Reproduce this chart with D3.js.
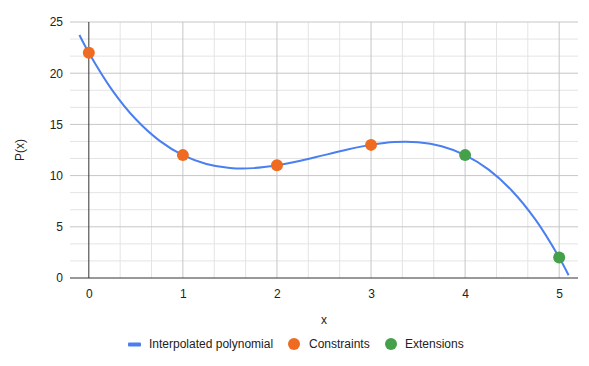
<!DOCTYPE html>
<html>
<head>
<meta charset="utf-8">
<script src="https://cdn.jsdelivr.net/npm/d3@7"></script>
<style>
  body { margin: 0; background: #fff; }
  text { font-family: "Liberation Sans", Arial, sans-serif; fill: #222; }
</style>
</head>
<body>
<svg width="589" height="366"></svg>
<script>
// data
const curveX = [-0.1, 0, 0.25, 0.5, 0.75, 1, 1.25, 1.5, 1.75, 2, 2.25, 2.5, 2.75, 3, 3.25, 3.5, 3.75, 4, 4.25, 4.5, 4.75, 5, 5.1];
const curveY = [23.73, 22, 18.33, 15.5, 13.42, 12, 11.14, 10.75, 10.73, 11, 11.45, 12, 12.55, 13, 13.27, 13.25, 12.86, 12, 10.58, 8.5, 5.67, 2, 0.27];
const constraintX = [0, 1, 2, 3];
const constraintY = [22, 12, 11, 13];
const extensionX = [4, 5];
const extensionY = [12, 2];
const xTicks = [0, 1, 2, 3, 4, 5];
const yTicks = [0, 5, 10, 15, 20, 25];

const svg = d3.select('svg');

const margin = { left: 70, right: 11, top: 22, bottom: 88 };
const width = +svg.attr('width');
const height = +svg.attr('height');

const xScale = d3.scaleLinear().domain([-0.2, 5.2]).range([margin.left, width - margin.right]);
const yScale = d3.scaleLinear().domain([0, 25]).range([height - margin.bottom, margin.top]);

const g = svg.append('g');

// minor grid (thirds of each major step)
const xMinor = d3.range(0, 5.2, 1 / 3).filter(v => Math.abs(v - Math.round(v)) > 0.01);
const yMinor = d3.range(0, 25.001, 5 / 3).filter(v => Math.abs(v / 5 - Math.round(v / 5)) > 0.01);

g.selectAll('.vminor').data(xMinor).enter().append('line')
  .attr('x1', d => xScale(d)).attr('x2', d => xScale(d))
  .attr('y1', yScale(0)).attr('y2', yScale(25))
  .attr('stroke', '#e4e4e4').attr('stroke-width', 1);
g.selectAll('.hminor').data(yMinor).enter().append('line')
  .attr('y1', d => yScale(d)).attr('y2', d => yScale(d))
  .attr('x1', xScale.range()[0]).attr('x2', xScale.range()[1])
  .attr('stroke', '#e4e4e4').attr('stroke-width', 1);

// major grid
g.selectAll('.vmajor').data(xTicks.filter(d => d !== 0)).enter().append('line')
  .attr('x1', d => xScale(d)).attr('x2', d => xScale(d))
  .attr('y1', yScale(0)).attr('y2', yScale(25))
  .attr('stroke', '#c6c6c6').attr('stroke-width', 1);
g.selectAll('.hmajor').data(yTicks.filter(d => d !== 0)).enter().append('line')
  .attr('y1', d => yScale(d)).attr('y2', d => yScale(d))
  .attr('x1', xScale.range()[0]).attr('x2', xScale.range()[1])
  .attr('stroke', '#c6c6c6').attr('stroke-width', 1);

// zero lines
g.append('line')
  .attr('x1', xScale(0)).attr('x2', xScale(0))
  .attr('y1', yScale(0)).attr('y2', yScale(25))
  .attr('stroke', '#333').attr('stroke-width', 1);
g.append('line')
  .attr('y1', yScale(0)).attr('y2', yScale(0))
  .attr('x1', xScale.range()[0]).attr('x2', xScale.range()[1])
  .attr('stroke', '#333').attr('stroke-width', 1);

// tick labels
const xAxisG = svg.append('g')
  .attr('transform', `translate(0, ${yScale(0)})`)
  .call(d3.axisBottom(xScale).tickValues(xTicks).tickFormat(d3.format('d')).tickSize(0).tickPadding(11));
xAxisG.select('.domain').remove();
xAxisG.selectAll('text').attr('font-size', 12).attr('fill', '#222')
  .style('font-family', '"Liberation Sans", Arial, sans-serif');

const yAxisG = svg.append('g')
  .attr('transform', `translate(${margin.left - 2}, 0)`)
  .call(d3.axisLeft(yScale).tickValues(yTicks).tickFormat(d3.format('d')).tickSize(0).tickPadding(5));
yAxisG.select('.domain').remove();
yAxisG.selectAll('text').attr('font-size', 12).attr('fill', '#222')
  .style('font-family', '"Liberation Sans", Arial, sans-serif');

// axis titles
svg.append('text')
  .attr('x', (xScale.range()[0] + xScale.range()[1]) / 2)
  .attr('y', 324)
  .attr('text-anchor', 'middle')
  .attr('font-size', 12)
  .text('x');

svg.append('text')
  .attr('transform', `translate(24, ${(yScale(0) + yScale(25)) / 2}) rotate(-90)`)
  .attr('text-anchor', 'middle')
  .attr('font-size', 12)
  .text('P(x)');

// curve
const curveData = curveX.map((x, i) => ({ x, y: curveY[i] }));
const line = d3.line()
  .x(d => xScale(d.x))
  .y(d => yScale(d.y))
  .curve(d3.curveCatmullRom);

g.append('path')
  .datum(curveData)
  .attr('d', line)
  .attr('fill', 'none')
  .attr('stroke', '#4a7ff0')
  .attr('stroke-width', 2);

// points
const constraints = constraintX.map((x, i) => ({ x, y: constraintY[i] }));
const extensions = extensionX.map((x, i) => ({ x, y: extensionY[i] }));

g.selectAll('.c').data(constraints).enter().append('circle')
  .attr('cx', d => xScale(d.x)).attr('cy', d => yScale(d.y))
  .attr('r', 6).attr('fill', '#ef6b22');
g.selectAll('.e').data(extensions).enter().append('circle')
  .attr('cx', d => xScale(d.x)).attr('cy', d => yScale(d.y))
  .attr('r', 6).attr('fill', '#45a04a');

// legend
const legend = svg.append('g').attr('transform', 'translate(0, 344)');
legend.append('rect')
  .attr('x', 128).attr('y', -1.5).attr('width', 13).attr('height', 4).attr('rx', 1)
  .attr('fill', '#4a7ff0');
legend.append('text').attr('x', 149).attr('y', 4).attr('font-size', 12).text('Interpolated polynomial');
legend.append('circle').attr('cx', 294).attr('cy', 0).attr('r', 6).attr('fill', '#ef6b22');
legend.append('text').attr('x', 309).attr('y', 4).attr('font-size', 12).text('Constraints');
legend.append('circle').attr('cx', 391).attr('cy', 0).attr('r', 6).attr('fill', '#45a04a');
legend.append('text').attr('x', 405).attr('y', 4).attr('font-size', 12).text('Extensions');
</script>
</body>
</html>
